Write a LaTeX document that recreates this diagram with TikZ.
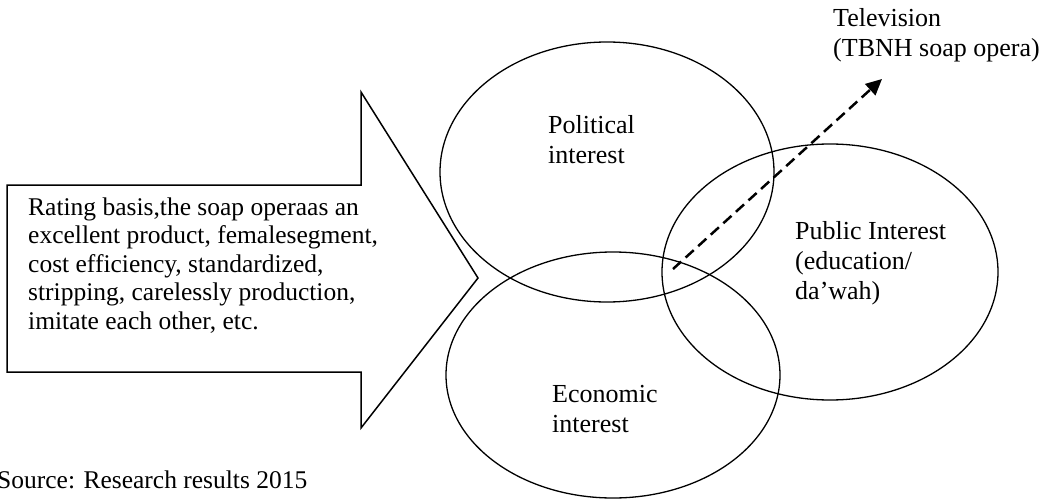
\documentclass[tikz,border=0pt]{standalone}
\usepackage{fontspec}
\setmainfont{Liberation Serif}
\usetikzlibrary{arrows.meta,shapes.geometric}
\begin{document}
\begin{tikzpicture}[x=1pt,y=-1pt,
  lbl/.style={font=\fontsize{26}{30}\selectfont, align=left, inner sep=0pt, anchor=base west},
  boxtext/.style={lbl, font=\fontsize{25.5}{28.5}\selectfont},
  venn/.style={draw, line width=1.3pt, ellipse, inner sep=0pt},
  bigarrow/.style={draw, line width=1.5pt, line join=miter},
  flow/.style={line width=2.5pt, dash pattern=on 11pt off 6pt, -{Triangle[length=16pt,width=15pt]}}]
\useasboundingbox (0,0) rectangle (1052,500);
% Venn ellipses
\node[venn, minimum width=334pt, minimum height=260pt] (pol) at (607,172) {};
\node[venn, minimum width=336pt, minimum height=256pt] (pub) at (830,272) {};
\node[venn, minimum width=334pt, minimum height=246pt] (eco) at (613,375) {};
% big block arrow
\draw[bigarrow] (7,185) -- (361,185) -- (361,92) -- (478,278) -- (361,428) -- (361,372) -- (7,372) -- cycle;
% labels (anchor = baseline of the last line)
\node[boxtext] (txt) at (28,329) {Rating basis,the soap operaas an\\excellent product, femalesegment,\\cost efficiency, standardized,\\stripping, carelessly production,\\imitate each other, etc.};
\node[lbl, font=\fontsize{25.5}{30}\selectfont] (src) at (-3,488) {Source: Research results 2015};
\node[lbl] (tv) at (833,57) {Television\\(TBNH soap opera)};
\node[lbl] (pl) at (548,164) {Political\\interest};
\node[lbl] (pu) at (795,299) {Public Interest\\(education/\\da’wah)};
\node[lbl] (ec) at (552,432) {Economic\\interest};
% dashed arrow
\coordinate (ds) at (673,269);
\coordinate (de) at (882,79);
\draw[flow] (ds) -- (de);
\end{tikzpicture}
\end{document}
